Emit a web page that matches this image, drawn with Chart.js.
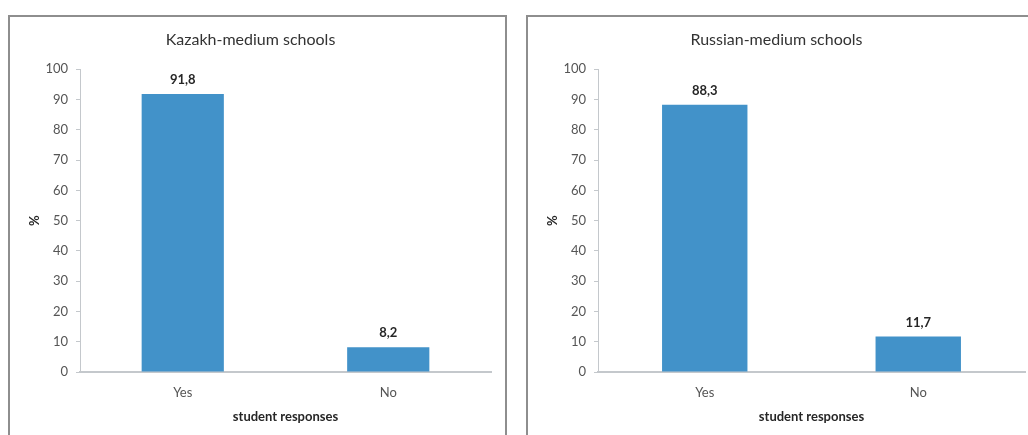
<!DOCTYPE html>
<html>
<head>
<meta charset="utf-8">
<script src="https://cdn.jsdelivr.net/npm/chart.js@4/dist/chart.umd.min.js"></script>
<style>
  html, body { margin: 0; padding: 0; background: #fff; }
  body { width: 1028px; height: 435px; overflow: hidden; position: relative; }
  .panel { position: absolute; top: 15px; height: 440px; border: 2px solid #8e8e8e; box-sizing: border-box; background: #fff; }
  .panel canvas { position: absolute; left: 0; top: 0; }
</style>
</head>
<body>
<div class="panel" id="p1" style="left:8px; width:499px;"><canvas id="c1"></canvas></div>
<div class="panel" id="p2" style="left:526px; width:512px;"><canvas id="c2"></canvas></div>
<script>
// Survey answers, percent of students
const categories = ['Yes', 'No'];
const kazakhValues = [91.8, 8.2];
const russianValues = [88.3, 11.7];
const yTicks = [0, 10, 20, 30, 40, 50, 60, 70, 80, 90, 100];
const titles = ['Kazakh-medium schools', 'Russian-medium schools'];
const xTitle = 'student responses';
const yTitle = '%';

const FONT = 'Lato, "Open Sans", sans-serif';
const BAR = '#4292c9';
const AXIS = '#c4c8cc';

// Writes each bar's value above it with a comma decimal separator
const valueLabels = {
  id: 'valueLabels',
  afterDatasetsDraw(chart) {
    const ctx = chart.ctx;
    const ds = chart.data.datasets[0];
    const meta = chart.getDatasetMeta(0);
    ctx.save();
    ctx.font = 'bold 13px ' + FONT;
    ctx.fillStyle = '#262626';
    ctx.textAlign = 'center';
    ctx.textBaseline = 'alphabetic';
    meta.data.forEach((bar, i) => {
      const txt = ds.data[i].toFixed(1).replace('.', ',');
      ctx.fillText(txt, bar.x, bar.y - 10);
    });
    ctx.restore();
  }
};

function makeChart(id, values, title, w, h, padRight) {
  const canvas = document.getElementById(id);
  canvas.width = w; canvas.height = h;
  canvas.style.width = w + 'px'; canvas.style.height = h + 'px';
  return new Chart(canvas, {
    type: 'bar',
    data: {
      labels: categories,
      datasets: [{
        data: values,
        backgroundColor: BAR,
        borderWidth: 0,
        categoryPercentage: 0.5,
        barPercentage: 0.8
      }]
    },
    options: {
      responsive: false,
      animation: false,
      events: [],
      layout: { padding: { top: 0, left: 0, right: padRight, bottom: 0 } },
      plugins: {
        legend: { display: false },
        tooltip: { enabled: false },
        title: {
          display: true,
          text: title,
          color: '#333333',
          font: { family: FONT, size: 16, weight: 'normal' },
          padding: { top: 13, bottom: 20 }
        }
      },
      scales: {
        x: {
          grid: { display: false, drawTicks: false },
          border: { display: true, color: AXIS, width: 2 },
          ticks: { color: '#555555', font: { family: FONT, size: 13 }, padding: 13 },
          title: {
            display: true, text: xTitle, color: '#262626',
            font: { family: FONT, size: 13, weight: 'bold' },
            padding: { top: 0, bottom: 10 }
          },
          afterFit(scale) { scale.height = 63; }
        },
        y: {
          min: 0, max: 100,
          afterBuildTicks(scale) { scale.ticks = yTicks.map(v => ({ value: v })); },
          grid: { display: true, drawOnChartArea: false, drawTicks: true, tickLength: 4, color: AXIS },
          border: { display: true, color: AXIS, width: 1 },
          ticks: { color: '#555555', font: { family: FONT, size: 13 }, padding: 8 },
          title: {
            display: true, text: yTitle, color: '#262626',
            font: { family: FONT, size: 13, weight: 'bold' },
            padding: { top: 17, bottom: 0 }
          },
          afterFit(scale) { scale.width = 70; }
        }
      }
    },
    plugins: [valueLabels]
  });
}

makeChart('c1', kazakhValues, titles[0], 495, 418, 14);
makeChart('c2', russianValues, titles[1], 508, 418, 11);
</script>
</body>
</html>
